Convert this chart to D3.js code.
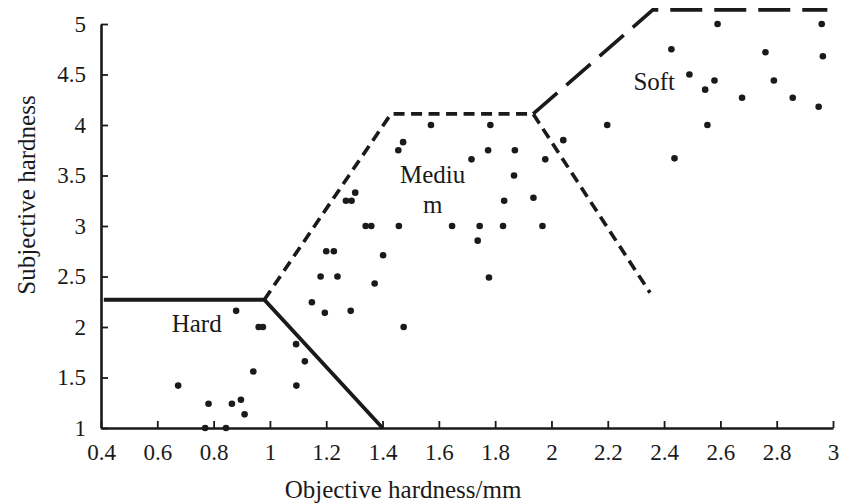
<!DOCTYPE html>
<html>
<head>
<meta charset="utf-8">
<script src="https://cdn.jsdelivr.net/npm/d3@7"></script>
<style>
  body { margin: 0; background: #fff; }
  svg { display: block; font-family: "Liberation Serif", "DejaVu Serif", serif; }
  svg text { font-family: "Liberation Serif", "DejaVu Serif", serif; }
</style>
</head>
<body>
<div id="chart"></div>
<script>
const width = 843
const height = 504

// scatter points: objective hardness (mm) vs subjective hardness
const xValues = [
  0.674, 0.77, 0.782, 0.844, 0.865, 0.88, 0.897, 0.91, 0.941, 0.96, 0.975, 1.093, 1.094, 1.124,
  1.149, 1.18, 1.195, 1.20, 1.227, 1.24, 1.27, 1.29, 1.287, 1.303, 1.34, 1.36, 1.372, 1.402,
  1.456, 1.458, 1.473, 1.475, 1.572, 1.647, 1.716, 1.738, 1.745, 1.775, 1.778, 1.783, 1.828,
  1.832, 1.867, 1.87, 1.936, 1.968, 1.978, 2.042, 2.198,
  2.426, 2.437, 2.49, 2.546, 2.554, 2.579, 2.59, 2.677, 2.76, 2.79, 2.857, 2.949, 2.96, 2.964
]
const yValues = [
  1.42, 1.0, 1.24, 1.0, 1.24, 2.16, 1.28, 1.135, 1.56, 2.0, 2.0, 1.83, 1.42, 1.66,
  2.245, 2.5, 2.14, 2.75, 2.75, 2.5, 3.25, 3.25, 2.16, 3.33, 3.0, 3.0, 2.43, 2.71,
  3.75, 3.0, 3.83, 2.0, 4.0, 3.0, 3.66, 2.855, 3.0, 3.75, 2.49, 4.0, 3.0,
  3.25, 3.5, 3.75, 3.28, 3.0, 3.66, 3.85, 4.0,
  4.75, 3.67, 4.5, 4.35, 4.0, 4.44, 5.0, 4.27, 4.72, 4.44, 4.27, 4.18, 5.0, 4.68
]

// region boundaries
const hardBoundary = [[0.41, 2.27], [0.98, 2.27], [1.4, 1.0]]
const mediumBoundary = [[0.98, 2.27], [1.43, 4.11], [1.935, 4.11], [2.35, 2.34]]
const softBoundary = [[1.935, 4.11], [2.36, 5.14], [2.98, 5.14]]

const regionLabels = [
  {lines: ['Hard'], x: 0.74, y: 1.95},
  {lines: ['Mediu', 'm'], x: 1.578, y: 3.43},
  {lines: ['Soft'], x: 2.365, y: 4.35}
]

const xTicks = [0.4, 0.6, 0.8, 1, 1.2, 1.4, 1.6, 1.8, 2, 2.2, 2.4, 2.6, 2.8, 3]
const yTicks = [1, 1.5, 2, 2.5, 3, 3.5, 4, 4.5, 5]

const svg = d3.select('#chart').append('svg')
  .attr('width', width)
  .attr('height', height)

const x = d3.scaleLinear().domain([0.4, 3]).range([101, 833])
const y = d3.scaleLinear().domain([1, 5]).range([428, 24])

const ink = '#1a1a1a'

// axes, ticks pointing inward
const xAxis = svg.append('g')
  .attr('transform', 'translate(0,' + y(1) + ')')
  .call(d3.axisBottom(x).tickValues(xTicks).tickSizeInner(-7).tickSizeOuter(0).tickPadding(16)
    .tickFormat(d3.format('')))
  .attr('font-family', null)
  .attr('font-size', null)
xAxis.select('.domain').attr('stroke', ink).attr('stroke-width', 2.6)
xAxis.selectAll('.tick line').attr('stroke', ink).attr('stroke-width', 1.8)
xAxis.selectAll('.tick text')
  .attr('fill', ink)
  .style('font-size', '23px')

const yAxis = svg.append('g')
  .attr('transform', 'translate(' + x(0.4) + ',0)')
  .call(d3.axisLeft(y).tickValues(yTicks).tickSizeInner(-7).tickSizeOuter(0).tickPadding(15)
    .tickFormat(d3.format('')))
  .attr('font-family', null)
  .attr('font-size', null)
yAxis.select('.domain').attr('stroke', ink).attr('stroke-width', 2.6)
yAxis.selectAll('.tick line').attr('stroke', ink).attr('stroke-width', 1.8)
yAxis.selectAll('.tick text')
  .attr('fill', ink)
  .style('font-size', '23px')

// boundary lines
const line = d3.line().x(d => x(d[0])).y(d => y(d[1]))

svg.append('path')
  .datum(hardBoundary)
  .attr('d', line)
  .attr('fill', 'none')
  .attr('stroke', ink)
  .attr('stroke-width', 3.8)

svg.append('path')
  .datum(mediumBoundary)
  .attr('d', line)
  .attr('fill', 'none')
  .attr('stroke', ink)
  .attr('stroke-width', 3.6)
  .attr('stroke-dasharray', '11,6.5')

svg.append('path')
  .datum(softBoundary)
  .attr('d', line)
  .attr('fill', 'none')
  .attr('stroke', ink)
  .attr('stroke-width', 3.6)
  .attr('stroke-dasharray', '32,12')

// points
svg.append('g')
  .selectAll('circle')
  .data(d3.range(xValues.length))
  .enter().append('circle')
  .attr('cx', i => x(xValues[i]))
  .attr('cy', i => y(yValues[i]))
  .attr('r', 3.3)
  .attr('fill', ink)

// region labels
const label = svg.append('g')
  .selectAll('text')
  .data(regionLabels)
  .enter().append('text')
  .attr('x', d => x(d.x))
  .attr('y', d => y(d.y))
  .attr('text-anchor', 'middle')
  .attr('fill', ink)
  .style('font-size', '25px')

label.selectAll('tspan')
  .data(d => d.lines.map((t, i) => ({t, i, x: d.x})))
  .enter().append('tspan')
  .attr('x', d => x(d.x))
  .attr('dy', d => d.i === 0 ? 0 : 30)
  .text(d => d.t)

// axis titles
svg.append('text')
  .attr('x', 403)
  .attr('y', 498)
  .attr('text-anchor', 'middle')
  .attr('fill', ink)
  .style('font-size', '25px')
  .text('Objective hardness/mm')

svg.append('text')
  .attr('transform', 'translate(35,195) rotate(-90)')
  .attr('text-anchor', 'middle')
  .attr('fill', ink)
  .style('font-size', '25px')
  .text('Subjective hardness')
</script>
</body>
</html>
